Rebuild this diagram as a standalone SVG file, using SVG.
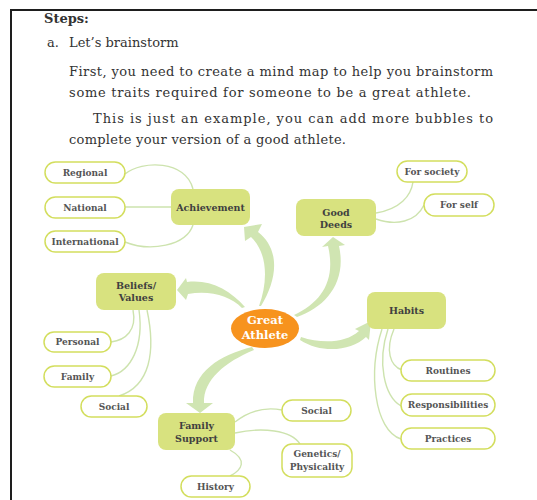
<svg xmlns="http://www.w3.org/2000/svg" width="537" height="500" viewBox="0 0 537 500">
<style>
.body{font-family:"DejaVu Serif","Liberation Serif",serif;font-size:13px;fill:#333}
.main rect{fill:#d8e27f}
.main text{font-family:"DejaVu Serif","Liberation Serif",serif;font-size:9.5px;font-weight:bold;fill:#404040;text-anchor:middle}
.leaf rect{fill:#fff;stroke:#d3de5e;stroke-width:1.5}
.leaf text{font-family:"DejaVu Serif","Liberation Serif",serif;font-size:9px;font-weight:bold;fill:#555;text-anchor:middle}
.thin path{fill:none;stroke:#cde3ae;stroke-width:1.4}
.big path{fill:#d0e5b2;stroke:none}
</style>
<rect width="537" height="500" fill="#fff"/>
<path d="M11,500 L11,10 L537,10" fill="none" stroke="#1e1e1e" stroke-width="2"/>
<g id="text">
<text class="body" x="44" y="22.5" font-weight="bold" font-size="13.5">Steps:</text>
<text class="body" x="47" y="47">a.</text>
<text class="body" x="69" y="47">Let’s brainstorm</text>
<text class="body" x="69" y="76" textLength="424" lengthAdjust="spacing">First, you need to create a mind map to help you brainstorm</text>
<text class="body" x="69" y="96.5" textLength="402" lengthAdjust="spacing">some traits required for someone to be a great athlete.</text>
<text class="body" x="93" y="123" textLength="400" lengthAdjust="spacing">This is just an example, you can add more bubbles to</text>
<text class="body" x="69" y="143.5" textLength="277" lengthAdjust="spacing">complete your version of a good athlete.</text>
</g>
<g id="connectors">
<g class="thin">
<path d="M125,174 C142,160 186,160 193,189"/>
<path d="M125,207 L171,207"/>
<path d="M125,242 C150,252 186,246 193,225"/>
<path d="M376,213 C400,209 411,196 413,182"/>
<path d="M376,219 C396,226 416,222 424,205"/>
<path d="M133,310 C137,330 126,340 111,342"/>
<path d="M139,310 C144,346 131,371 111,376"/>
<path d="M147,310 C156,352 150,386 119,396"/>
<path d="M394,329 C385,350 390,366 402,370"/>
<path d="M388,329 C377,362 384,396 401,406"/>
<path d="M382,329 C368,372 374,430 401,439"/>
<path d="M235,422 C250,410 266,407 282,410"/>
<path d="M235,433 C262,427 291,430 300,444"/>
<path d="M230,450 C248,460 242,470 230,476"/>
</g>
<g class="big">
<path d="M261,306 C277,280 281,250 258,232 L262,224 L244,227 L245,241 L251,237 C268,253 268,282 259,306 Z"/>
<path d="M245,307 C230,290 210,279 187,282 L186,278 L177,290 L186,300 L188,294 C210,290 230,296 242,308 Z"/>
<path d="M294,315 C322,302 336,280 328,246 L322,247 L333,237 L345,245 L339,246 C347,282 326,307 297,317 Z"/>
<path d="M300,340 C322,354 351,351 366,337 L369,340 L371,321 L355,329 L359,331 C346,343 322,344 301,337 Z"/>
<path d="M252,347 C220,355 192,372 193,403 L186,403 L200,413 L213,403 L204,403 C203,380 225,362 254,350 Z"/>
</g>
</g>
<g id="great-athlete">
<ellipse cx="265" cy="328.5" rx="34" ry="19.5" fill="#f7931e"/>
<text x="265" y="324" font-family="DejaVu Serif, Liberation Serif, serif" font-size="11.5" font-weight="bold" fill="#fff" text-anchor="middle">Great</text>
<text x="265" y="338.5" font-family="DejaVu Serif, Liberation Serif, serif" font-size="11.5" font-weight="bold" fill="#fff" text-anchor="middle">Athlete</text>
</g>
<g id="achievement" class="main"><rect x="171" y="189" width="79" height="36" rx="8"/><text x="210.5" y="210.5">Achievement</text></g>
<g id="good-deeds" class="main"><rect x="296" y="199" width="80" height="37" rx="8"/><text x="336" y="215.5">Good</text><text x="336" y="227.5">Deeds</text></g>
<g id="beliefs" class="main"><rect x="96" y="273" width="80" height="37" rx="8"/><text x="136" y="288.5">Beliefs/</text><text x="136" y="300.5">Values</text></g>
<g id="habits" class="main"><rect x="367" y="292" width="79" height="37" rx="8"/><text x="406.5" y="314">Habits</text></g>
<g id="family-support" class="main"><rect x="158" y="413" width="77" height="37" rx="8"/><text x="196.5" y="428.5">Family</text><text x="196.5" y="441.5">Support</text></g>
<g id="regional" class="leaf"><rect x="45" y="162" width="80" height="21" rx="10.5"/><text x="85" y="175.5">Regional</text></g>
<g id="national" class="leaf"><rect x="45" y="197" width="80" height="21" rx="10.5"/><text x="85" y="210.5">National</text></g>
<g id="international" class="leaf"><rect x="45" y="231" width="80" height="21" rx="10.5"/><text x="85" y="244.5">International</text></g>
<g id="for-society" class="leaf"><rect x="397" y="161" width="70" height="21" rx="10.5"/><text x="432" y="174.5">For society</text></g>
<g id="for-self" class="leaf"><rect x="424" y="194" width="70" height="22" rx="11"/><text x="459" y="208">For self</text></g>
<g id="personal" class="leaf"><rect x="44" y="332" width="67" height="20" rx="10"/><text x="77.5" y="345">Personal</text></g>
<g id="family" class="leaf"><rect x="44" y="366" width="67" height="21" rx="10.5"/><text x="77.5" y="379.5">Family</text></g>
<g id="social-left" class="leaf"><rect x="81" y="396" width="66" height="21" rx="10.5"/><text x="114" y="409.5">Social</text></g>
<g id="history" class="leaf"><rect x="181" y="476" width="69" height="21" rx="10.5"/><text x="215.5" y="489.5">History</text></g>
<g id="social-bottom" class="leaf"><rect x="282" y="400" width="69" height="21" rx="10.5"/><text x="316.5" y="413.5">Social</text></g>
<g id="genetics" class="leaf"><rect x="282" y="444" width="70" height="33" rx="10"/><text x="317" y="457">Genetics/</text><text x="317" y="470">Physicality</text></g>
<g id="routines" class="leaf"><rect x="401" y="360" width="94" height="21" rx="10.5"/><text x="448" y="373.5">Routines</text></g>
<g id="responsibilities" class="leaf"><rect x="401" y="394" width="94" height="22" rx="11"/><text x="448" y="408">Responsibilities</text></g>
<g id="practices" class="leaf"><rect x="401" y="428" width="94" height="21" rx="10.5"/><text x="448" y="441.5">Practices</text></g>
</svg>
